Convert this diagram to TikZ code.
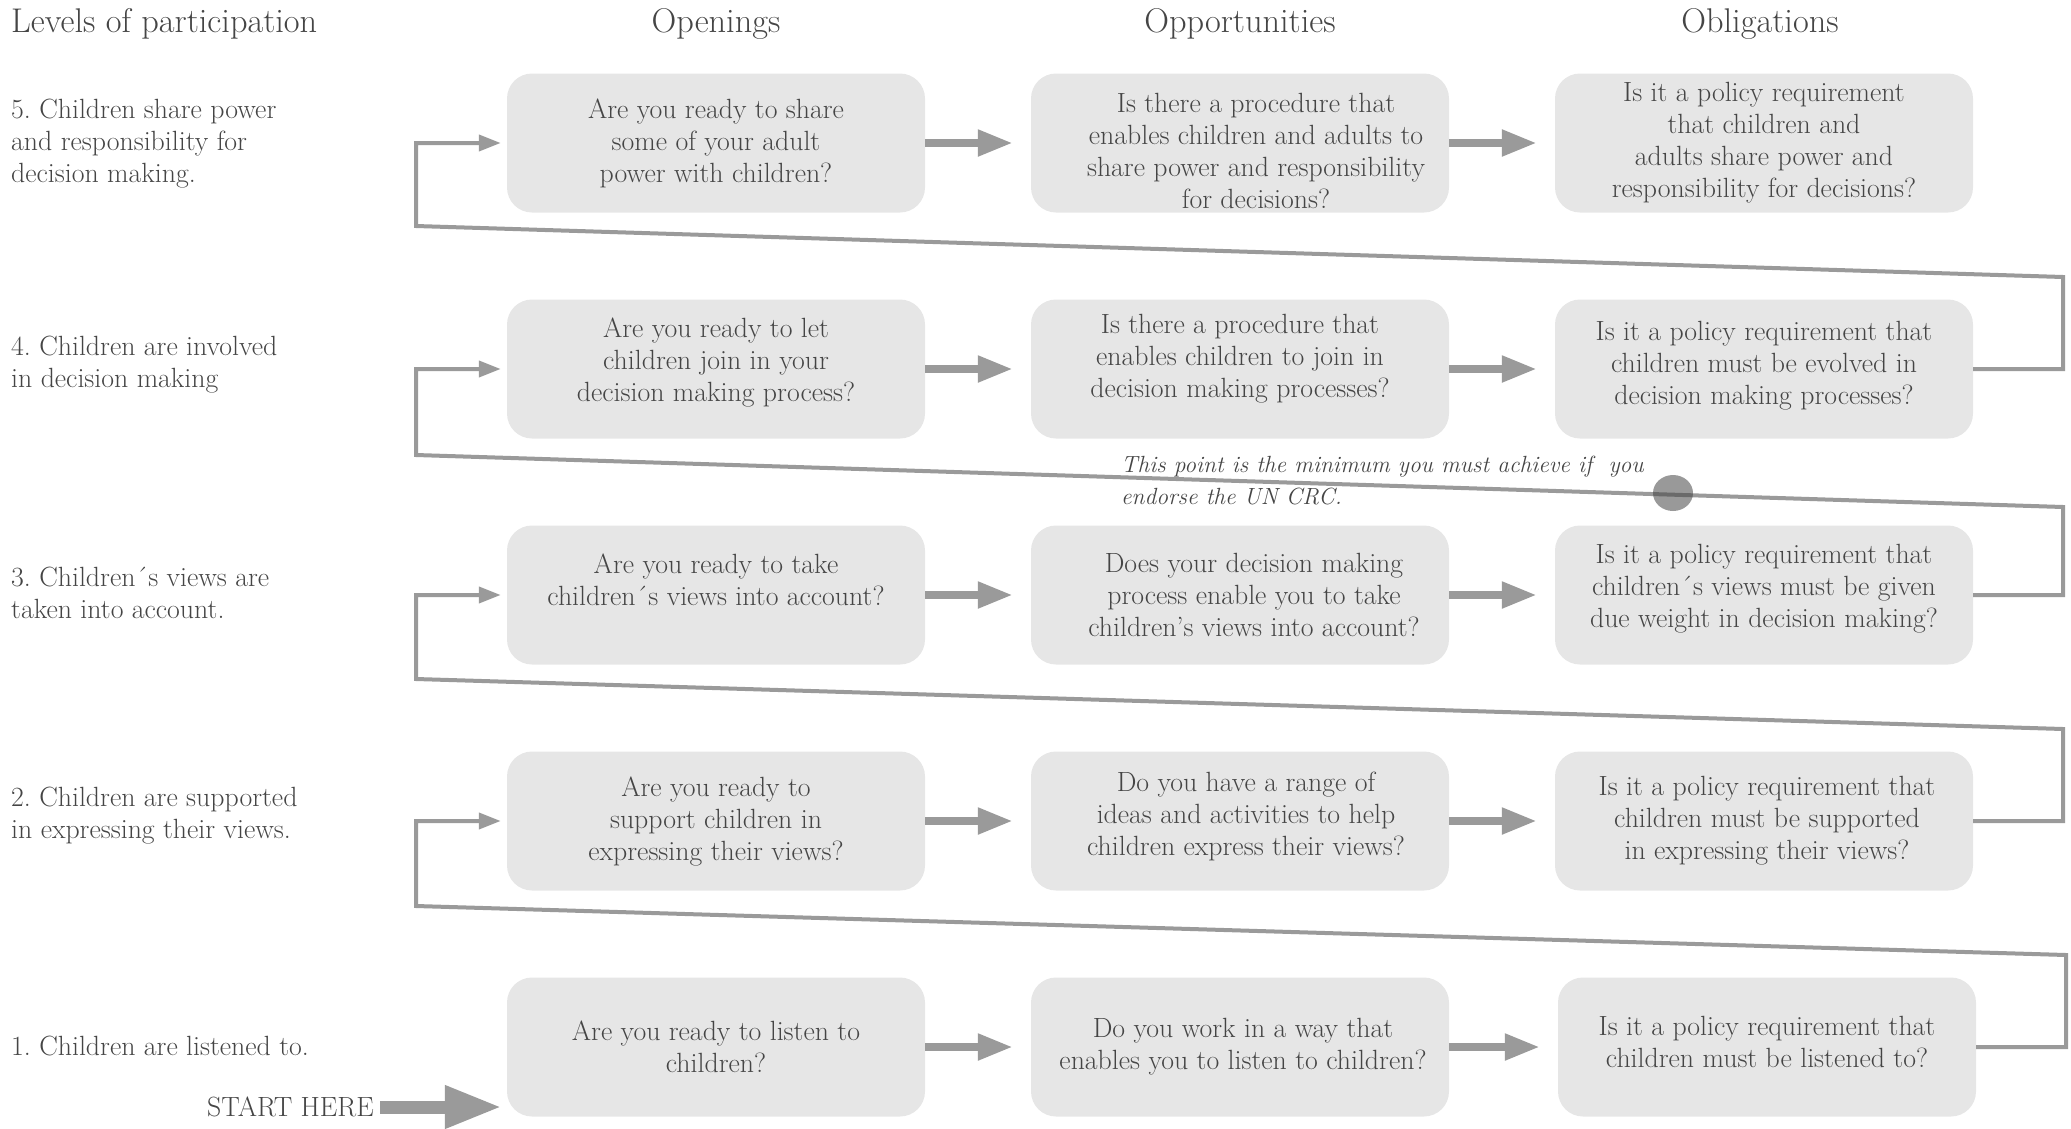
\documentclass[tikz,border=0pt]{standalone}
\usetikzlibrary{arrows.meta}
\definecolor{txtc}{HTML}{454545}
\definecolor{boxfill}{HTML}{E6E6E6}
\definecolor{arrc}{HTML}{9A9A9A}
\definecolor{dotc}{HTML}{999999}
\definecolor{darkc}{HTML}{6A6A6A}
\newcommand{\qq}[4]{\node[qbox] (#1) at (#2) {}; \node[qtext, shift={(#3)}] (t#1) at (#1.center) {#4};}
\frenchspacing
\begin{document}
\begin{tikzpicture}[x=1bp,y=-1bp,
  qbox/.style={fill=boxfill, rounded corners=25bp, minimum width=418bp, minimum height=139bp, inner sep=0pt},
  qtext/.style={text=txtc, align=center, font=\fontsize{27.8bp}{32bp}\selectfont, inner sep=0pt},
  lvl/.style={text=txtc, align=left, anchor=west, font=\fontsize{27.8bp}{32bp}\selectfont, inner sep=0pt},
  head/.style={text=txtc, anchor=base, font=\fontsize{34.3bp}{38bp}\selectfont, inner sep=0pt},
  flow/.style={draw=arrc, line width=8bp, -{Triangle[length=35bp,width=25bp]}, shorten >=18bp},
  back/.style={draw=arrc, line width=4bp, line join=miter, -{Triangle[length=22bp,width=16bp]}, shorten >=6bp},
  startarr/.style={draw=arrc, line width=13bp, -{Triangle[length=57bp,width=40bp]}, shorten >=5bp, shorten <=6bp},
  note/.style={text=txtc, align=left, anchor=west, font=\fontsize{23.4bp}{32bp}\selectfont\itshape, inner sep=0pt},
]
\useasboundingbox (0,0) rectangle (2071,1128);

% headers
\node[head, anchor=base west] (hlev) at (11,32) {Levels of participation};
\node[head] (hop) at (716,32) {Openings};
\node[head] (hopp) at (1240,32) {Opportunities};
\node[head] (hobl) at (1760,32) {Obligations};

% level labels
\node[lvl] (l5) at (11,144) {5. Children share power\\and responsibility for\\decision making.};
\node[lvl] (l4) at (11,365) {4. Children are involved\\in decision making};
\node[lvl] (l3) at (11,593) {3. Children´s views are\\taken into account.};
\node[lvl] (l2) at (11,816) {2. Children are supported\\in expressing their views.};
\node[lvl] (l1) at (11,1046) {1. Children are listened to.};

% boxes
\qq{b51}{716,143}{0,0}{Are you ready to share\\some of your adult\\power with children?}
\qq{b52}{1240,143}{16,8}{Is there a procedure that\\enables children and adults to\\share power and responsibility\\for decisions?}
\qq{b53}{1764,143}{0,0}{Is it a policy requirement\\that children and\\adults share power and\\responsibility for decisions?}

\qq{b41}{716,369}{0,-6}{Are you ready to let\\children join in your\\decision making process?}
\qq{b42}{1240,369}{0,-10}{Is there a procedure that\\enables children to join in\\decision making processes?}
\qq{b43}{1764,369}{0,-3}{Is it a policy requirement that\\children must be evolved in\\decision making processes?}

\qq{b31}{716,595}{0,-15}{Are you ready to take\\children´s views into account?}
\qq{b32}{1240,595}{14,0}{Does your decision making\\process enable you to take\\children’s views into account?}
\qq{b33}{1764,595}{0,-6}{Is it a policy requirement that\\children´s views must be given\\due weight in decision making?}

\qq{b21}{716,821}{0,0}{Are you ready to\\support children in\\expressing their views?}
\qq{b22}{1240,821}{6,-5}{Do you have a range of\\ideas and activities to help\\children express their views?}
\qq{b23}{1764,821}{3,0}{Is it a policy requirement that\\children must be supported\\in expressing their views?}

\qq{b11}{716,1047}{0,0}{Are you ready to listen to\\children?}
\qq{b12}{1240,1047}{3,0}{Do you work in a way that\\enables you to listen to children?}
\qq{b13}{1767,1047}{0,-5}{Is it a policy requirement that\\children must be listened to?}

% horizontal flow arrows
\foreach \r in {1,...,5}{
  \draw[flow] (b\r1.east) -- (b\r2.west);
  \draw[flow] (b\r2.east) -- (b\r3.west);
}

% feedback connectors
\coordinate (r4a) at (2063,369);
\coordinate (r4b) at (2063,277);
\coordinate (r4c) at (416,226);
\coordinate (r4d) at (416,143);
\draw[back] (b43.east) -- (r4a) -- (r4b) -- (r4c) -- (r4d) -- (b51.west);

\coordinate (r3a) at (2063,595);
\coordinate (r3b) at (2063,507);
\coordinate (r3c) at (416,455);
\coordinate (r3d) at (416,369);
\draw[back] (b33.east) -- (r3a) -- (r3b) -- (r3c) -- (r3d) -- (b41.west);

\coordinate (r2a) at (2063,821);
\coordinate (r2b) at (2063,729);
\coordinate (r2c) at (416,679);
\coordinate (r2d) at (416,595);
\draw[back] (b23.east) -- (r2a) -- (r2b) -- (r2c) -- (r2d) -- (b31.west);

\coordinate (r1a) at (2066,1047);
\coordinate (r1b) at (2066,955);
\coordinate (r1c) at (416,906);
\coordinate (r1d) at (416,821);
\draw[back] (b13.east) -- (r1a) -- (r1b) -- (r1c) -- (r1d) -- (b21.west);

% minimum point marker
\fill[dotc] (1673,493) ellipse [x radius=20bp, y radius=18bp];
\begin{scope}
  \clip (1673,493) ellipse [x radius=20bp, y radius=18bp];
  \draw[darkc, line width=4bp] (r3b) -- (r3c);
\end{scope}

\node[note] (minnote) at (1121,481) {This point is the minimum you must achieve if~ you\\endorse the UN CRC.};

% start
\node[text=txtc, anchor=east, font=\fontsize{27.8bp}{32bp}\selectfont, inner sep=0pt] (start) at (374,1107) {START HERE};
\draw[startarr] (start.east) -- (b11.west |- start.east);
\end{tikzpicture}
\end{document}
